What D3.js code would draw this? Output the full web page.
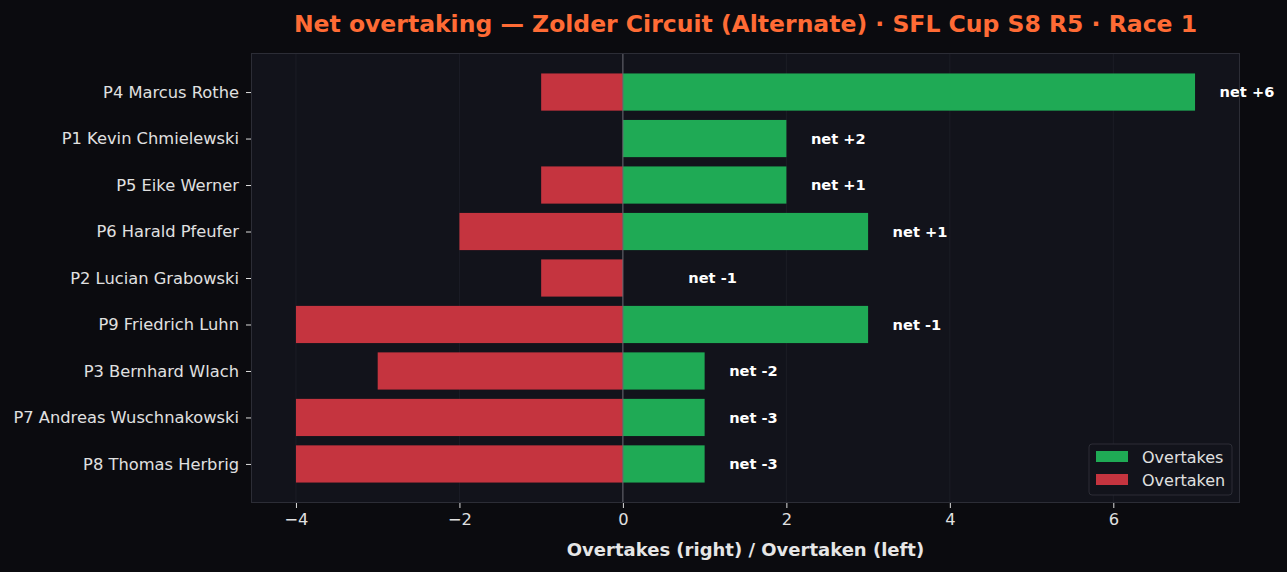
<!DOCTYPE html>
<html><head><meta charset="utf-8">
<script src="https://cdn.jsdelivr.net/npm/d3@7"></script>
<style>
html,body{margin:0;padding:0;background:#0b0b0f;}
svg{display:block;font-family:"DejaVu Sans",sans-serif;}
</style></head>
<body>
<svg id="chart" width="1287" height="572"></svg>
<script>
const drivers = ["P4 Marcus Rothe","P1 Kevin Chmielewski","P5 Eike Werner","P6 Harald Pfeufer","P2 Lucian Grabowski","P9 Friedrich Luhn","P3 Bernhard Wlach","P7 Andreas Wuschnakowski","P8 Thomas Herbrig"];
const overtakes = [7,2,2,3,0,3,1,1,1];
const overtaken = [1,0,1,2,1,4,3,4,4];
const netLabels = ["net +6","net +2","net +1","net +1","net -1","net -1","net -2","net -3","net -3"];
const xTicks = [-4,-2,0,2,4,6];

const svg = d3.select("#chart");
const W = 1287, H = 572;
const m = {left:251, right:1240, top:53, bottom:503};

const x = d3.scaleLinear().domain([-4.55, 7.55]).range([m.left, m.right]);
const y = d3.scaleLinear().domain([-0.84, 8.84]).range([m.top, m.bottom]);
const bh = y(0.4) - y(-0.4);

svg.append("rect").attr("width",W).attr("height",H).attr("fill","#0b0b0f");
svg.append("rect").attr("x",m.left).attr("y",m.top).attr("width",m.right-m.left).attr("height",m.bottom-m.top).attr("fill","#12131b");

// grid
svg.append("g").selectAll("line").data(xTicks).join("line")
  .attr("x1",d=>x(d)).attr("x2",d=>x(d)).attr("y1",m.top).attr("y2",m.bottom)
  .attr("stroke","#1c1d26").attr("stroke-width",1);

// bars
svg.append("g").selectAll("rect").data(overtaken).join("rect")
  .attr("x",d=>x(-d)).attr("width",d=>x(0)-x(-d))
  .attr("y",(d,i)=>y(i)-bh/2).attr("height",bh).attr("fill","#c5343f");
svg.append("g").selectAll("rect").data(overtakes).join("rect")
  .attr("x",x(0)).attr("width",d=>x(d)-x(0))
  .attr("y",(d,i)=>y(i)-bh/2).attr("height",bh).attr("fill","#1faa55");

// zero line
svg.append("line").attr("x1",x(0)).attr("x2",x(0)).attr("y1",m.top).attr("y2",m.bottom)
  .attr("stroke","#6a6a72").attr("stroke-width",1);

// net labels
svg.append("g").selectAll("text").data(netLabels).join("text")
  .attr("x",(d,i)=>x(Math.max(overtakes[i],0.5)+0.3))
  .attr("y",(d,i)=>y(i)).attr("dy","0.35em")
  .attr("fill","#ffffff").attr("font-size",14.6).attr("font-weight","bold")
  .text(d=>d);

// frame
svg.append("rect").attr("x",m.left+0.5).attr("y",m.top+0.5).attr("width",m.right-m.left-1).attr("height",m.bottom-m.top-1)
  .attr("fill","none").attr("stroke","#2c2d36").attr("stroke-width",1);

// x axis
const xa = svg.append("g").attr("transform",`translate(0,${m.bottom})`)
  .call(d3.axisBottom(x).tickValues(xTicks).tickSize(5).tickPadding(5).tickFormat(d=>d<0?"\u2212"+Math.abs(d):d));
xa.select(".domain").remove();
xa.selectAll("line").attr("stroke","#dddddd");
xa.selectAll("text").attr("fill","#e0e0e0").attr("font-size",16.3).attr("font-family","DejaVu Sans");

// y axis
const ya = svg.append("g").attr("transform",`translate(${m.left},0)`)
  .call(d3.axisLeft(y).tickValues(d3.range(drivers.length)).tickSize(5).tickPadding(7).tickFormat(i=>drivers[i]));
ya.select(".domain").remove();
ya.selectAll("line").attr("stroke","#dddddd");
ya.selectAll("text").attr("fill","#e0e0e0").attr("font-size",16.3).attr("font-family","DejaVu Sans");

// axis label
svg.append("text").attr("x",(m.left+m.right)/2).attr("y",556).attr("text-anchor","middle")
  .attr("fill","#e6e6e6").attr("font-size",18).attr("font-weight","bold")
  .text("Overtakes (right) / Overtaken (left)");

// title
svg.append("text").attr("x",(m.left+m.right)/2).attr("y",32).attr("text-anchor","middle")
  .attr("fill","#ff6b35").attr("font-size",23.5).attr("font-weight","bold")
  .text("Net overtaking \u2014 Zolder Circuit (Alternate) \u00b7 SFL Cup S8 R5 \u00b7 Race 1");

// legend
const lg = svg.append("g").attr("transform","translate(1089,444)");
lg.append("rect").attr("width",143).attr("height",51).attr("rx",3)
  .attr("fill","#12131b").attr("stroke","#2c2d36");
const items = [["Overtakes","#1faa55"],["Overtaken","#c5343f"]];
items.forEach((it,i)=>{
  lg.append("rect").attr("x",7).attr("y",7+i*23).attr("width",32).attr("height",11).attr("fill",it[1]);
  lg.append("text").attr("x",53).attr("y",13+i*23).attr("dy","0.35em")
    .attr("fill","#e0e0e0").attr("font-size",16).text(it[0]);
});
</script>
</body></html>
